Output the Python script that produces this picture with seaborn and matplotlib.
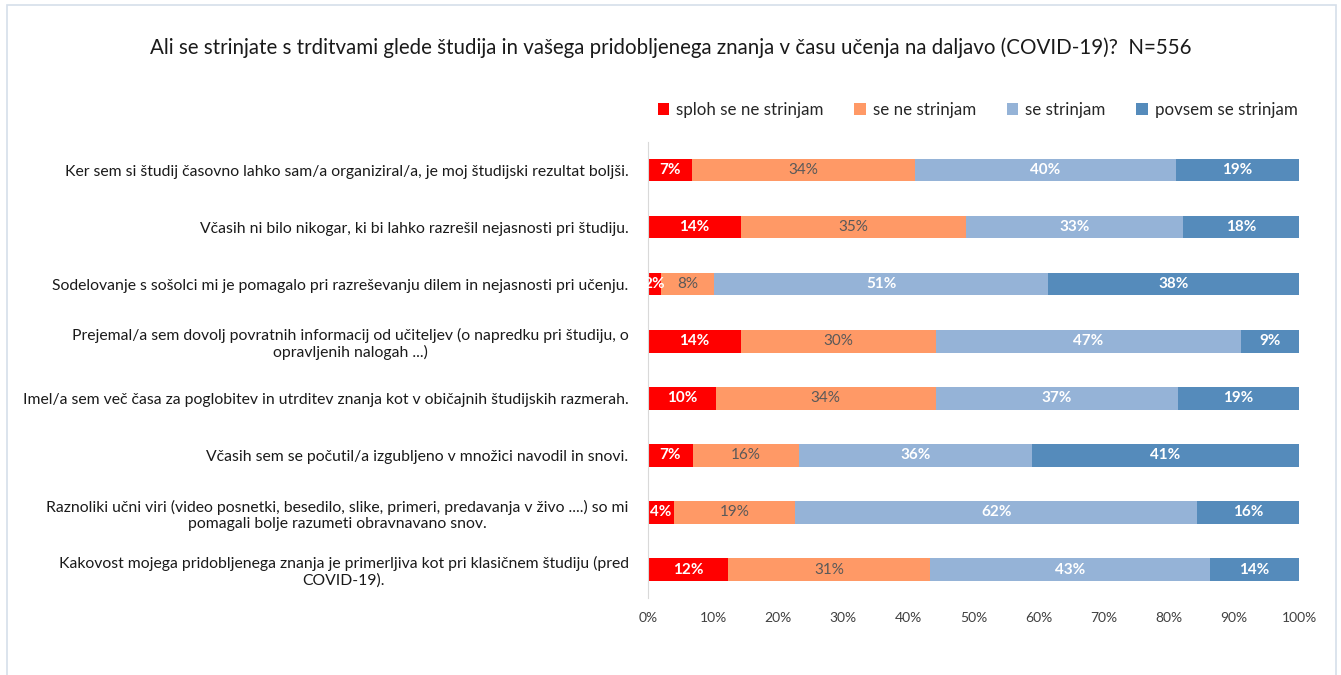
import matplotlib
matplotlib.use("Agg")
import matplotlib.pyplot as plt
import seaborn as sns
import pandas as pd
import numpy as np
from matplotlib.patches import Patch, Rectangle

# Data (share of respondents, %)
statements = [
    "Ker sem si študij časovno lahko sam/a organiziral/a, je moj študijski rezultat boljši.",
    "Včasih ni bilo nikogar, ki bi lahko razrešil nejasnosti pri študiju.",
    "Sodelovanje s sošolci mi je pomagalo pri razreševanju dilem in nejasnosti pri učenju.",
    "Prejemal/a sem dovolj povratnih informacij od učiteljev (o napredku pri študiju, o\nopravljenih nalogah ...)",
    "Imel/a sem več časa za poglobitev in utrditev znanja kot v običajnih študijskih razmerah.",
    "Včasih sem se počutil/a izgubljeno v množici navodil in snovi.",
    "Raznoliki učni viri (video posnetki, besedilo, slike, primeri, predavanja v živo ....) so mi\npomagali bolje razumeti obravnavano snov.",
    "Kakovost mojega pridobljenega znanja je primerljiva kot pri klasičnem študiju (pred\nCOVID-19).",
]
answers = ["sploh se ne strinjam", "se ne strinjam", "se strinjam", "povsem se strinjam"]

sploh_ne = [6.8, 14.3, 2.0, 14.3, 10.4, 6.9, 4.0, 12.3]
ne = [34.2, 34.6, 8.1, 29.9, 33.8, 16.3, 18.6, 31.0]
da = [40.1, 33.3, 51.4, 46.9, 37.2, 35.8, 61.8, 43.0]
povsem = [18.9, 17.8, 38.5, 8.9, 18.6, 41.0, 15.6, 13.7]

colors = ["#FF0000", "#FF9966", "#95B3D7", "#558BBB"]
label_colors = ["white", "#595959", "white", "white"]

df = pd.DataFrame({"statement": statements, answers[0]: sploh_ne, answers[1]: ne,
                   answers[2]: da, answers[3]: povsem})
cum = df[answers].cumsum(axis=1)

sns.set_style("white")
plt.rcParams["font.family"] = ["Lato", "DejaVu Sans"]

fig = plt.figure(figsize=(13.41, 6.75), dpi=100)
ax = fig.add_axes([0.4832, 0.114, 0.4855, 0.676])

# stacked bars: draw cumulative totals from the widest to the narrowest
for i in range(3, -1, -1):
    sns.barplot(x=cum[answers[i]], y=df["statement"], color=colors[i], orient="h",
                width=0.39, ax=ax, saturation=1, edgecolor="none")

# percentage labels in the middle of each segment
for i, ans in enumerate(answers):
    for j in range(len(df)):
        val = df[ans][j]
        mid = cum[ans][j] - val / 2
        ax.text(mid, j, f"{val:.0f}%", ha="center", va="center", fontsize=11,
                color=label_colors[i], fontweight="bold" if label_colors[i] == "white" else "normal")

ax.set_xlim(0, 100)
ax.set_ylim(len(df) - 0.5, -0.5)
ax.set_xticks(np.arange(0, 101, 10))
ax.set_xticklabels([f"{v}%" for v in range(0, 101, 10)], fontsize=10, color="#404040")
ax.set_xlabel("")
ax.set_ylabel("")
ax.tick_params(axis="y", length=0, pad=14, labelsize=11.3, labelcolor="#1a1a1a")
ax.tick_params(axis="x", length=0, pad=10)
for t in ax.get_yticklabels():
    t.set_multialignment("center")
for s in ["top", "right", "bottom"]:
    ax.spines[s].set_visible(False)
ax.spines["left"].set_color("#D9D9D9")

handles = [Patch(facecolor=c, edgecolor="none") for c in colors]
fig.legend(handles, answers, loc="center", bbox_to_anchor=(0.729, 0.837), ncol=4,
           frameon=False, fontsize=12.2, handlelength=0.7, handleheight=0.7,
           handletextpad=0.4, columnspacing=1.8)

fig.text(0.5, 0.930, "Ali se strinjate s trditvami glede študija in vašega pridobljenega znanja v času učenja na daljavo (COVID-19)?  N=556",
         ha="center", va="center", fontsize=14.8, color="#1a1a1a")

fig.patches.append(Rectangle((0.0055, -0.05), 0.9905, 1.043, transform=fig.transFigure,
                             fill=False, edgecolor="#D6DFEA", linewidth=1.2))

fig.savefig("out.png", dpi=100)
